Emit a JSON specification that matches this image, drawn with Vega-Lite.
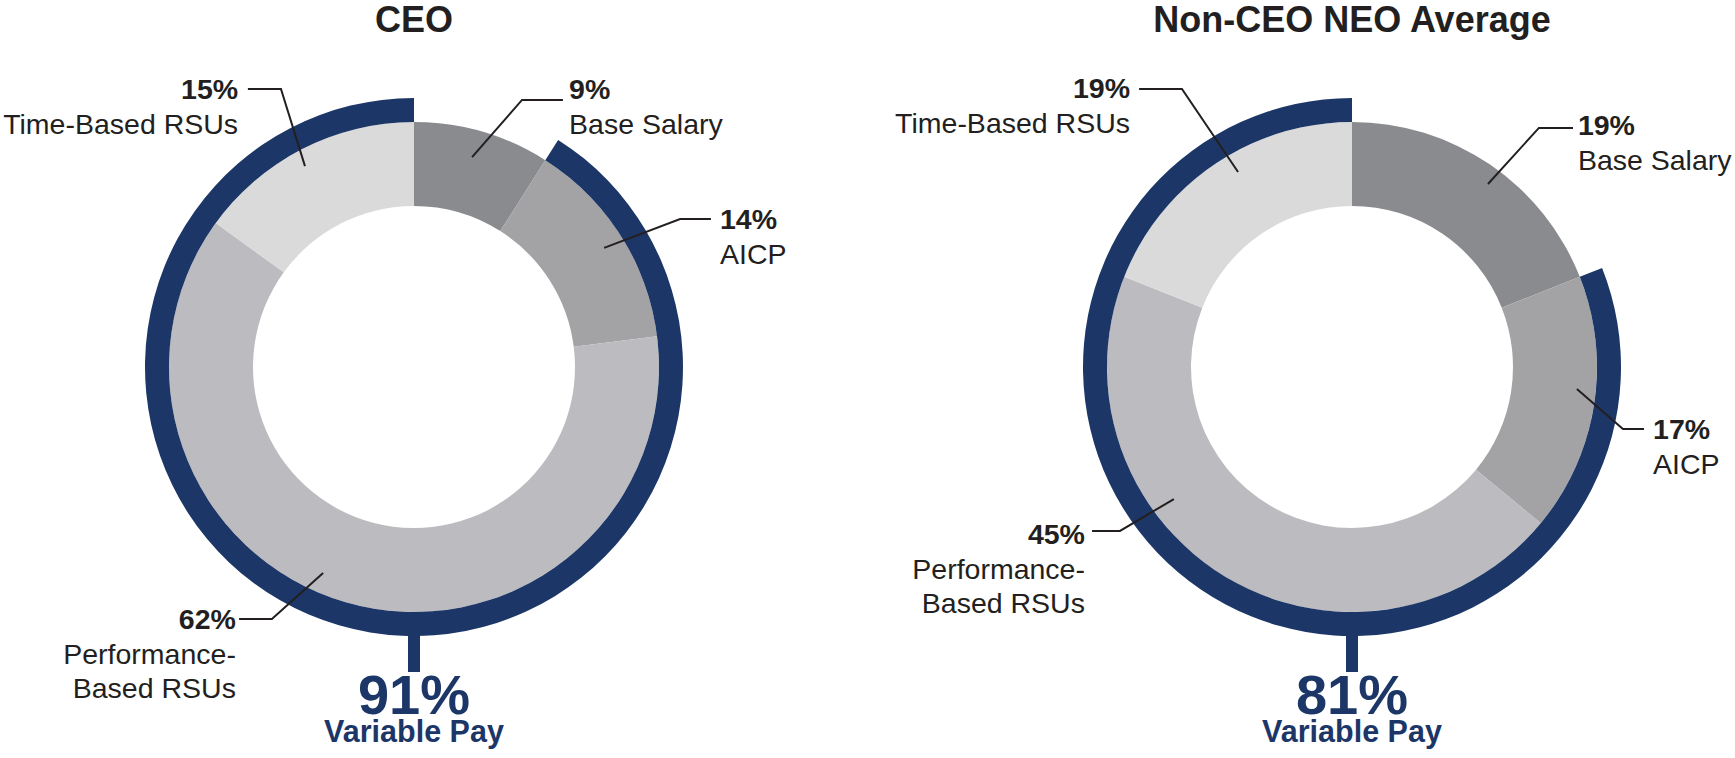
{
  "$schema": "https://vega.github.io/schema/vega-lite/v6.json",
  "padding": 0,
  "spacing": 0,
  "bounds": "flush",
  "config": {"view": {"stroke": null}, "font": "Liberation Sans", "concat": {"spacing": 0}},
  "datasets": {
    "slices": [
      {"id": "ceo-base", "chart": "CEO", "component": "Base Salary", "label": "Base Salary", "order": 1, "pct": 0.09},
      {"id": "ceo-aicp", "chart": "CEO", "component": "AICP", "label": "AICP", "order": 2, "pct": 0.14},
      {"id": "ceo-prsu", "chart": "CEO", "component": "Performance-Based RSUs", "label": "Performance-\nBased RSUs", "order": 3, "pct": 0.62},
      {"id": "ceo-trsu", "chart": "CEO", "component": "Time-Based RSUs", "label": "Time-Based RSUs", "order": 4, "pct": 0.15},
      {"id": "neo-base", "chart": "Non-CEO NEO Average", "component": "Base Salary", "label": "Base Salary", "order": 1, "pct": 0.19},
      {"id": "neo-aicp", "chart": "Non-CEO NEO Average", "component": "AICP", "label": "AICP", "order": 2, "pct": 0.17},
      {"id": "neo-prsu", "chart": "Non-CEO NEO Average", "component": "Performance-Based RSUs", "label": "Performance-\nBased RSUs", "order": 3, "pct": 0.45},
      {"id": "neo-trsu", "chart": "Non-CEO NEO Average", "component": "Time-Based RSUs", "label": "Time-Based RSUs", "order": 4, "pct": 0.19}
    ],
    "mix": [
      {"chart": "CEO", "type": "Fixed Pay", "order": 1, "pct": 0.09},
      {"chart": "CEO", "type": "Variable Pay", "order": 2, "pct": 0.91},
      {"chart": "Non-CEO NEO Average", "type": "Fixed Pay", "order": 1, "pct": 0.19},
      {"chart": "Non-CEO NEO Average", "type": "Variable Pay", "order": 2, "pct": 0.81}
    ],
    "labelPos": [
      {"id": "ceo-trsu", "side": "left", "lx": -71.8, "ly": 109.4},
      {"id": "ceo-base", "side": "right", "lx": 63.3, "ly": 109.4},
      {"id": "ceo-aicp", "side": "right", "lx": 124.9, "ly": 56.3},
      {"id": "ceo-prsu", "side": "left", "lx": -72.7, "ly": -106.9},
      {"id": "neo-trsu", "side": "left", "lx": -90.6, "ly": 109.8},
      {"id": "neo-base", "side": "right", "lx": 92.2, "ly": 94.7},
      {"id": "neo-aicp", "side": "right", "lx": 122.9, "ly": -29.4},
      {"id": "neo-prsu", "side": "left", "lx": -109.0, "ly": -72.2}
    ],
    "leaders": [
      {"chart": "CEO", "id": "ceo-trsu", "seq": 1, "lx": -67.8, "ly": 113.5},
      {"chart": "CEO", "id": "ceo-trsu", "seq": 2, "lx": -54.3, "ly": 113.5},
      {"chart": "CEO", "id": "ceo-trsu", "seq": 3, "lx": -44.5, "ly": 82.0},
      {"chart": "CEO", "id": "ceo-base", "seq": 1, "lx": 60.8, "ly": 109.0},
      {"chart": "CEO", "id": "ceo-base", "seq": 2, "lx": 44.1, "ly": 109.0},
      {"chart": "CEO", "id": "ceo-base", "seq": 3, "lx": 23.7, "ly": 85.7},
      {"chart": "CEO", "id": "ceo-aicp", "seq": 1, "lx": 121.2, "ly": 60.4},
      {"chart": "CEO", "id": "ceo-aicp", "seq": 2, "lx": 108.6, "ly": 60.4},
      {"chart": "CEO", "id": "ceo-aicp", "seq": 3, "lx": 77.6, "ly": 48.6},
      {"chart": "CEO", "id": "ceo-prsu", "seq": 1, "lx": -71.4, "ly": -102.9},
      {"chart": "CEO", "id": "ceo-prsu", "seq": 2, "lx": -58.0, "ly": -102.9},
      {"chart": "CEO", "id": "ceo-prsu", "seq": 3, "lx": -37.1, "ly": -84.1},
      {"chart": "Non-CEO NEO Average", "id": "neo-trsu", "seq": 1, "lx": -86.9, "ly": 113.5},
      {"chart": "Non-CEO NEO Average", "id": "neo-trsu", "seq": 2, "lx": -69.4, "ly": 113.5},
      {"chart": "Non-CEO NEO Average", "id": "neo-trsu", "seq": 3, "lx": -46.5, "ly": 79.6},
      {"chart": "Non-CEO NEO Average", "id": "neo-base", "seq": 1, "lx": 90.2, "ly": 97.6},
      {"chart": "Non-CEO NEO Average", "id": "neo-base", "seq": 2, "lx": 76.3, "ly": 97.6},
      {"chart": "Non-CEO NEO Average", "id": "neo-base", "seq": 3, "lx": 55.5, "ly": 74.7},
      {"chart": "Non-CEO NEO Average", "id": "neo-aicp", "seq": 1, "lx": 119.2, "ly": -25.3},
      {"chart": "Non-CEO NEO Average", "id": "neo-aicp", "seq": 2, "lx": 110.6, "ly": -25.3},
      {"chart": "Non-CEO NEO Average", "id": "neo-aicp", "seq": 3, "lx": 91.8, "ly": -9.0},
      {"chart": "Non-CEO NEO Average", "id": "neo-prsu", "seq": 1, "lx": -106.1, "ly": -66.9},
      {"chart": "Non-CEO NEO Average", "id": "neo-prsu", "seq": 2, "lx": -94.7, "ly": -66.9},
      {"chart": "Non-CEO NEO Average", "id": "neo-prsu", "seq": 3, "lx": -72.7, "ly": -53.9}
    ]
  },
  "hconcat": [
    {
      "width": 868,
      "height": 758,
      "layer": [
        {
          "data": {"name": "slices"},
          "transform": [
            {"filter": "datum.chart === 'CEO'"},
            {"stack": "pct", "groupby": ["chart"], "sort": [{"field": "order", "order": "ascending"}], "as": ["t0", "t1"]}
          ],
          "mark": {"type": "arc", "innerRadius": 161, "outerRadius": 245},
          "encoding": {
            "x": {"datum": 0, "type": "quantitative", "scale": {"domain": [-168.98, 185.31], "nice": false, "zero": false}, "axis": null},
            "y": {"datum": 0, "type": "quantitative", "scale": {"domain": [-159.59, 149.8], "nice": false, "zero": false}, "axis": null},
            "theta": {"field": "t0", "type": "quantitative", "scale": {"domain": [0, 1]}},
            "theta2": {"field": "t1"},
            "color": {"field": "component", "type": "nominal", "legend": null, "scale": {"domain": ["Base Salary", "AICP", "Performance-Based RSUs", "Time-Based RSUs"], "range": ["#8a8b8f", "#a3a3a5", "#bcbbbf", "#dadada"]}}
          }
        },
        {
          "data": {"name": "mix"},
          "transform": [
            {"filter": "datum.chart === 'CEO'"},
            {"stack": "pct", "groupby": ["chart"], "sort": [{"field": "order", "order": "ascending"}], "as": ["t0", "t1"]},
            {"filter": "datum.type === 'Variable Pay'"}
          ],
          "mark": {"type": "arc", "innerRadius": 245, "outerRadius": 269, "color": "#1c3767"},
          "encoding": {
            "x": {"datum": 0, "type": "quantitative", "scale": {"domain": [-168.98, 185.31], "nice": false, "zero": false}, "axis": null},
            "y": {"datum": 0, "type": "quantitative", "scale": {"domain": [-159.59, 149.8], "nice": false, "zero": false}, "axis": null},
            "theta": {"field": "t0", "type": "quantitative", "scale": {"domain": [0, 1]}},
            "theta2": {"field": "t1"}
          }
        },
        {
          "data": {"name": "mix"},
          "transform": [{"filter": "datum.chart === 'CEO' && datum.type === 'Variable Pay'"}],
          "mark": {"type": "rule", "strokeWidth": 12, "color": "#1c3767"},
          "encoding": {
            "x": {"datum": 0, "type": "quantitative", "scale": {"domain": [-168.98, 185.31], "nice": false, "zero": false}, "axis": null},
            "y": {"datum": -108.5, "type": "quantitative", "scale": {"domain": [-159.59, 149.8], "nice": false, "zero": false}, "axis": null},
            "y2": {"datum": -124.5}
          }
        },
        {
          "data": {"name": "leaders"},
          "transform": [{"filter": "datum.chart === 'CEO'"}],
          "mark": {"type": "line", "strokeWidth": 2, "color": "#231f20"},
          "encoding": {
            "x": {"field": "lx", "type": "quantitative", "scale": {"domain": [-168.98, 185.31], "nice": false, "zero": false}, "axis": null},
            "y": {"field": "ly", "type": "quantitative", "scale": {"domain": [-159.59, 149.8], "nice": false, "zero": false}, "axis": null},
            "detail": {"field": "id"},
            "order": {"field": "seq", "type": "quantitative"}
          }
        },
        {
          "data": {"name": "slices"},
          "transform": [
            {"filter": "datum.chart === 'CEO'"},
            {"lookup": "id", "from": {"data": {"name": "labelPos"}, "key": "id", "fields": ["side", "lx", "ly"]}},
            {"filter": "datum.side === 'left'"}
          ],
          "layer": [
            {
              "mark": {"type": "text", "align": "right", "baseline": "alphabetic", "fontSize": 28.5, "fontWeight": "bold", "color": "#231f20"},
              "encoding": {"text": {"field": "pct", "type": "quantitative", "format": ".0%"}}
            },
            {
              "mark": {"type": "text", "align": "right", "baseline": "alphabetic", "fontSize": 28.5, "color": "#231f20", "dy": 35, "lineBreak": "\n", "lineHeight": 34},
              "encoding": {"text": {"field": "label", "type": "nominal"}}
            }
          ],
          "encoding": {
            "x": {"field": "lx", "type": "quantitative", "scale": {"domain": [-168.98, 185.31], "nice": false, "zero": false}, "axis": null},
            "y": {"field": "ly", "type": "quantitative", "scale": {"domain": [-159.59, 149.8], "nice": false, "zero": false}, "axis": null}
          }
        },
        {
          "data": {"name": "slices"},
          "transform": [
            {"filter": "datum.chart === 'CEO'"},
            {"lookup": "id", "from": {"data": {"name": "labelPos"}, "key": "id", "fields": ["side", "lx", "ly"]}},
            {"filter": "datum.side === 'right'"}
          ],
          "layer": [
            {
              "mark": {"type": "text", "align": "left", "baseline": "alphabetic", "fontSize": 28.5, "fontWeight": "bold", "color": "#231f20"},
              "encoding": {"text": {"field": "pct", "type": "quantitative", "format": ".0%"}}
            },
            {
              "mark": {"type": "text", "align": "left", "baseline": "alphabetic", "fontSize": 28.5, "color": "#231f20", "dy": 35, "lineBreak": "\n", "lineHeight": 34},
              "encoding": {"text": {"field": "label", "type": "nominal"}}
            }
          ],
          "encoding": {
            "x": {"field": "lx", "type": "quantitative", "scale": {"domain": [-168.98, 185.31], "nice": false, "zero": false}, "axis": null},
            "y": {"field": "ly", "type": "quantitative", "scale": {"domain": [-159.59, 149.8], "nice": false, "zero": false}, "axis": null}
          }
        },
        {
          "data": {"name": "mix"},
          "transform": [{"filter": "datum.chart === 'CEO' && datum.type === 'Variable Pay'"}],
          "layer": [
            {
              "mark": {"type": "text", "align": "center", "baseline": "alphabetic", "fontSize": 36, "fontWeight": "bold", "color": "#231f20"},
              "encoding": {
                "y": {"datum": 136.7, "type": "quantitative", "scale": {"domain": [-159.59, 149.8], "nice": false, "zero": false}, "axis": null},
                "text": {"field": "chart", "type": "nominal"}
              }
            },
            {
              "mark": {"type": "text", "align": "center", "baseline": "alphabetic", "fontSize": 56, "fontWeight": "bold", "color": "#1c3767"},
              "encoding": {
                "y": {"datum": -141.6, "type": "quantitative", "scale": {"domain": [-159.59, 149.8], "nice": false, "zero": false}, "axis": null},
                "text": {"field": "pct", "type": "quantitative", "format": ".0%"}
              }
            },
            {
              "mark": {"type": "text", "align": "center", "baseline": "alphabetic", "fontSize": 30.5, "fontWeight": "bold", "color": "#1c3767"},
              "encoding": {
                "y": {"datum": -153.1, "type": "quantitative", "scale": {"domain": [-159.59, 149.8], "nice": false, "zero": false}, "axis": null},
                "text": {"field": "type", "type": "nominal"}
              }
            }
          ],
          "encoding": {
            "x": {"datum": 0, "type": "quantitative", "scale": {"domain": [-168.98, 185.31], "nice": false, "zero": false}, "axis": null}
          }
        }
      ]
    },
    {
      "width": 867,
      "height": 758,
      "layer": [
        {
          "data": {"name": "slices"},
          "transform": [
            {"filter": "datum.chart === 'Non-CEO NEO Average'"},
            {"stack": "pct", "groupby": ["chart"], "sort": [{"field": "order", "order": "ascending"}], "as": ["t0", "t1"]}
          ],
          "mark": {"type": "arc", "innerRadius": 161, "outerRadius": 245},
          "encoding": {
            "x": {"datum": 0, "type": "quantitative", "scale": {"domain": [-197.55, 156.33], "nice": false, "zero": false}, "axis": null},
            "y": {"datum": 0, "type": "quantitative", "scale": {"domain": [-159.59, 149.8], "nice": false, "zero": false}, "axis": null},
            "theta": {"field": "t0", "type": "quantitative", "scale": {"domain": [0, 1]}},
            "theta2": {"field": "t1"},
            "color": {"field": "component", "type": "nominal", "legend": null, "scale": {"domain": ["Base Salary", "AICP", "Performance-Based RSUs", "Time-Based RSUs"], "range": ["#8a8b8f", "#a3a3a5", "#bcbbbf", "#dadada"]}}
          }
        },
        {
          "data": {"name": "mix"},
          "transform": [
            {"filter": "datum.chart === 'Non-CEO NEO Average'"},
            {"stack": "pct", "groupby": ["chart"], "sort": [{"field": "order", "order": "ascending"}], "as": ["t0", "t1"]},
            {"filter": "datum.type === 'Variable Pay'"}
          ],
          "mark": {"type": "arc", "innerRadius": 245, "outerRadius": 269, "color": "#1c3767"},
          "encoding": {
            "x": {"datum": 0, "type": "quantitative", "scale": {"domain": [-197.55, 156.33], "nice": false, "zero": false}, "axis": null},
            "y": {"datum": 0, "type": "quantitative", "scale": {"domain": [-159.59, 149.8], "nice": false, "zero": false}, "axis": null},
            "theta": {"field": "t0", "type": "quantitative", "scale": {"domain": [0, 1]}},
            "theta2": {"field": "t1"}
          }
        },
        {
          "data": {"name": "mix"},
          "transform": [{"filter": "datum.chart === 'Non-CEO NEO Average' && datum.type === 'Variable Pay'"}],
          "mark": {"type": "rule", "strokeWidth": 12, "color": "#1c3767"},
          "encoding": {
            "x": {"datum": 0, "type": "quantitative", "scale": {"domain": [-197.55, 156.33], "nice": false, "zero": false}, "axis": null},
            "y": {"datum": -108.5, "type": "quantitative", "scale": {"domain": [-159.59, 149.8], "nice": false, "zero": false}, "axis": null},
            "y2": {"datum": -124.5}
          }
        },
        {
          "data": {"name": "leaders"},
          "transform": [{"filter": "datum.chart === 'Non-CEO NEO Average'"}],
          "mark": {"type": "line", "strokeWidth": 2, "color": "#231f20"},
          "encoding": {
            "x": {"field": "lx", "type": "quantitative", "scale": {"domain": [-197.55, 156.33], "nice": false, "zero": false}, "axis": null},
            "y": {"field": "ly", "type": "quantitative", "scale": {"domain": [-159.59, 149.8], "nice": false, "zero": false}, "axis": null},
            "detail": {"field": "id"},
            "order": {"field": "seq", "type": "quantitative"}
          }
        },
        {
          "data": {"name": "slices"},
          "transform": [
            {"filter": "datum.chart === 'Non-CEO NEO Average'"},
            {"lookup": "id", "from": {"data": {"name": "labelPos"}, "key": "id", "fields": ["side", "lx", "ly"]}},
            {"filter": "datum.side === 'left'"}
          ],
          "layer": [
            {
              "mark": {"type": "text", "align": "right", "baseline": "alphabetic", "fontSize": 28.5, "fontWeight": "bold", "color": "#231f20"},
              "encoding": {"text": {"field": "pct", "type": "quantitative", "format": ".0%"}}
            },
            {
              "mark": {"type": "text", "align": "right", "baseline": "alphabetic", "fontSize": 28.5, "color": "#231f20", "dy": 35, "lineBreak": "\n", "lineHeight": 34},
              "encoding": {"text": {"field": "label", "type": "nominal"}}
            }
          ],
          "encoding": {
            "x": {"field": "lx", "type": "quantitative", "scale": {"domain": [-197.55, 156.33], "nice": false, "zero": false}, "axis": null},
            "y": {"field": "ly", "type": "quantitative", "scale": {"domain": [-159.59, 149.8], "nice": false, "zero": false}, "axis": null}
          }
        },
        {
          "data": {"name": "slices"},
          "transform": [
            {"filter": "datum.chart === 'Non-CEO NEO Average'"},
            {"lookup": "id", "from": {"data": {"name": "labelPos"}, "key": "id", "fields": ["side", "lx", "ly"]}},
            {"filter": "datum.side === 'right'"}
          ],
          "layer": [
            {
              "mark": {"type": "text", "align": "left", "baseline": "alphabetic", "fontSize": 28.5, "fontWeight": "bold", "color": "#231f20"},
              "encoding": {"text": {"field": "pct", "type": "quantitative", "format": ".0%"}}
            },
            {
              "mark": {"type": "text", "align": "left", "baseline": "alphabetic", "fontSize": 28.5, "color": "#231f20", "dy": 35, "lineBreak": "\n", "lineHeight": 34},
              "encoding": {"text": {"field": "label", "type": "nominal"}}
            }
          ],
          "encoding": {
            "x": {"field": "lx", "type": "quantitative", "scale": {"domain": [-197.55, 156.33], "nice": false, "zero": false}, "axis": null},
            "y": {"field": "ly", "type": "quantitative", "scale": {"domain": [-159.59, 149.8], "nice": false, "zero": false}, "axis": null}
          }
        },
        {
          "data": {"name": "mix"},
          "transform": [{"filter": "datum.chart === 'Non-CEO NEO Average' && datum.type === 'Variable Pay'"}],
          "layer": [
            {
              "mark": {"type": "text", "align": "center", "baseline": "alphabetic", "fontSize": 36, "fontWeight": "bold", "color": "#231f20"},
              "encoding": {
                "y": {"datum": 136.7, "type": "quantitative", "scale": {"domain": [-159.59, 149.8], "nice": false, "zero": false}, "axis": null},
                "text": {"field": "chart", "type": "nominal"}
              }
            },
            {
              "mark": {"type": "text", "align": "center", "baseline": "alphabetic", "fontSize": 56, "fontWeight": "bold", "color": "#1c3767"},
              "encoding": {
                "y": {"datum": -141.6, "type": "quantitative", "scale": {"domain": [-159.59, 149.8], "nice": false, "zero": false}, "axis": null},
                "text": {"field": "pct", "type": "quantitative", "format": ".0%"}
              }
            },
            {
              "mark": {"type": "text", "align": "center", "baseline": "alphabetic", "fontSize": 30.5, "fontWeight": "bold", "color": "#1c3767"},
              "encoding": {
                "y": {"datum": -153.1, "type": "quantitative", "scale": {"domain": [-159.59, 149.8], "nice": false, "zero": false}, "axis": null},
                "text": {"field": "type", "type": "nominal"}
              }
            }
          ],
          "encoding": {
            "x": {"datum": 0, "type": "quantitative", "scale": {"domain": [-197.55, 156.33], "nice": false, "zero": false}, "axis": null}
          }
        }
      ]
    }
  ]
}
